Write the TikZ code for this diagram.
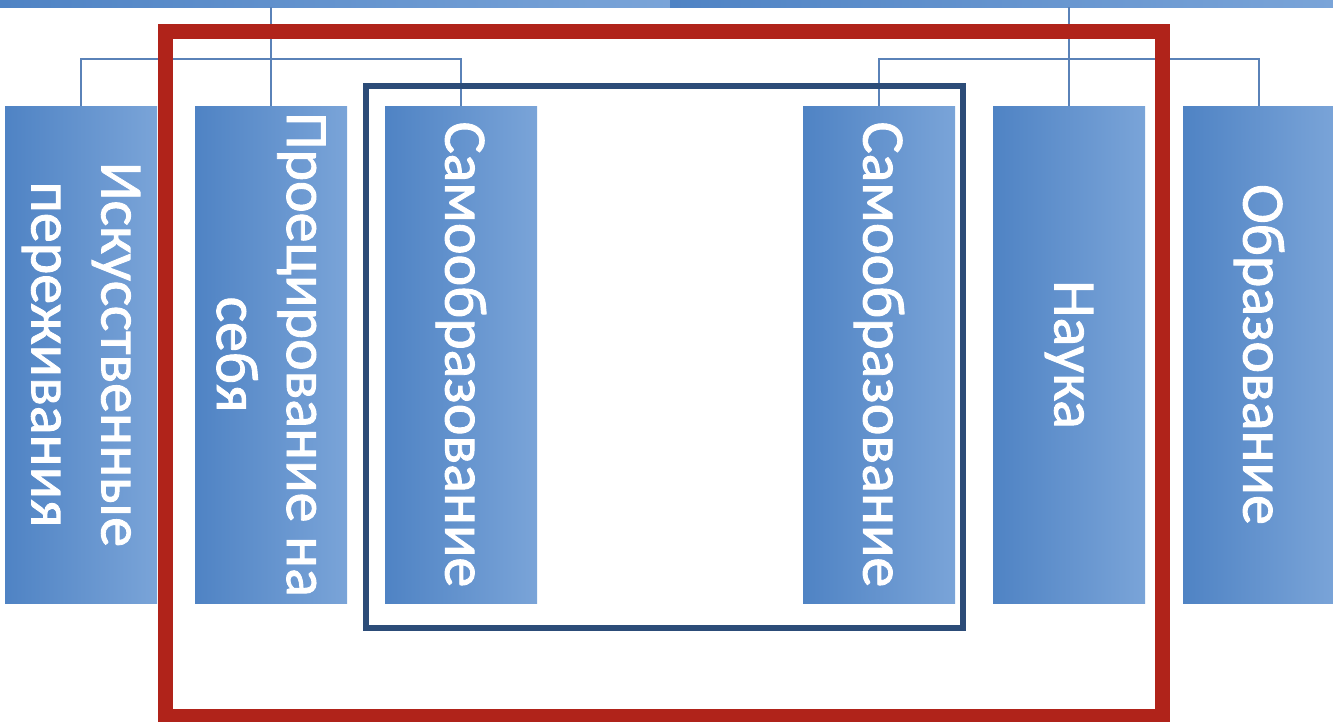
\documentclass[tikz,border=0pt]{standalone}
\usepackage{fontspec}
\setmainfont{Carlito}
\newfontfamily\boxfont{Carlito}[FakeBold=1.5]
\definecolor{boxdark}{HTML}{4F83C4}
\definecolor{boxlight}{HTML}{7AA4D8}
\definecolor{linkblue}{HTML}{5A82B8}
\definecolor{framered}{HTML}{B0231A}
\definecolor{frameblue}{HTML}{2C4C78}
\tikzset{
  orgbox/.style={rectangle, rotate=-90, minimum width=497pt, minimum height=152pt,
    inner sep=0pt, left color=boxdark, right color=boxlight, text=white,
    align=center, font=\boxfont\fontsize{60}{70}\selectfont},
  topbar/.style={rectangle, inner sep=0pt, minimum height=7pt,
    left color=boxdark, right color=boxlight},
  link/.style={draw=linkblue, line width=2pt},
}
\begin{document}
\begin{tikzpicture}[x=1pt,y=-1pt]
\useasboundingbox (0,0) rectangle (1333,721);
% top bars
\node[topbar, minimum width=670pt] (barL) at (335,3.5) {};
\node[topbar, minimum width=663pt] (barR) at (1001.5,3.5) {};
% boxes
\node[orgbox] (b1) at (81,354.5) {Искусственные\\переживания};
\node[orgbox] (b2) at (271,354.5) {Проецирование на\\себя};
\node[orgbox] (b3) at (461,354.5) {Самообразование};
\node[orgbox] (b4) at (879,354.5) {Самообразование};
\node[orgbox] (b5) at (1069,354.5) {Наука};
\node[orgbox] (b6) at (1259,354.5) {Образование};
% connectors
\coordinate (hL) at (271,59);
\coordinate (hR) at (1069,59);
\draw[link] (b2.west) -- (b2.west |- barL.south);
\draw[link] (b1.west) -- (b1.west |- hL) -- (b3.west |- hL) -- (b3.west);
\draw[link] (b5.west) -- (b5.west |- barR.south);
\draw[link] (b4.west) -- (b4.west |- hR) -- (b6.west |- hR) -- (b6.west);
% frames
\node[draw=frameblue, line width=6pt, minimum width=597pt, minimum height=542pt, inner sep=0pt] (blueframe) at (664.5,357) {};
\node[draw=framered, line width=15pt, minimum width=997pt, minimum height=685pt, inner sep=0pt] (redframe) at (663.5,373.5) {};
\end{tikzpicture}
\end{document}
